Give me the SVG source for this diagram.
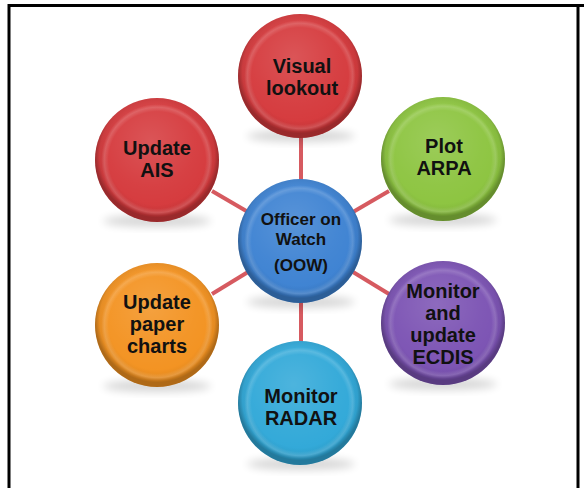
<svg xmlns="http://www.w3.org/2000/svg" width="584" height="488" viewBox="0 0 584 488">
<style>
.t{font-family:"Liberation Sans",Arial,sans-serif;font-weight:bold;fill:#111;text-anchor:middle}
.big{font-size:20px}
.mid{font-size:17px}
.conn{stroke:#d65a60;stroke-width:4;fill:none}
.shadow{fill:#000;opacity:0.16}
</style>
<defs>
<filter id="blur" x="-30%" y="-50%" width="160%" height="200%"><feGaussianBlur stdDeviation="4"/></filter>
<radialGradient id="shade" cx="50%" cy="46%" r="54%">
<stop offset="0.74" stop-color="#000" stop-opacity="0"/>
<stop offset="0.86" stop-color="#000" stop-opacity="0.06"/>
<stop offset="0.93" stop-color="#000" stop-opacity="0.28"/>
</radialGradient>
<radialGradient id="hi" cx="45%" cy="35%" r="60%">
<stop offset="0" stop-color="#fff" stop-opacity="0.14"/>
<stop offset="0.6" stop-color="#fff" stop-opacity="0.04"/>
<stop offset="1" stop-color="#fff" stop-opacity="0"/>
</radialGradient>
<radialGradient id="rim" cx="50%" cy="50%" r="50%">
<stop offset="0.78" stop-color="#fff" stop-opacity="0"/>
<stop offset="0.85" stop-color="#fff" stop-opacity="0.16"/>
<stop offset="0.9" stop-color="#fff" stop-opacity="0"/>
</radialGradient>
</defs>
<rect x="0" y="0" width="584" height="488" fill="#fff"/>
<path d="M9 488 V5.5 H584" fill="none" stroke="#000" stroke-width="3"/>
<line x1="578" y1="5" x2="578" y2="488" stroke="#000" stroke-width="3"/>

<g id="connectors">
<line class="conn" x1="301" y1="135" x2="301" y2="182"/>
<line class="conn" x1="301" y1="300" x2="301" y2="345"/>
<line class="conn" x1="212" y1="191" x2="248" y2="212"/>
<line class="conn" x1="389" y1="191" x2="353" y2="212"/>
<line class="conn" x1="212" y1="294" x2="248" y2="272"/>
<line class="conn" x1="389" y1="294" x2="353" y2="272"/>
</g>

<g id="visual-lookout">
<ellipse class="shadow" cx="301" cy="136" rx="54" ry="6" filter="url(#blur)"/>
<circle cx="300" cy="76" r="62" fill="#d5393c"/>
<circle cx="300" cy="76" r="62" fill="url(#hi)"/>
<circle cx="300" cy="76" r="62" fill="url(#rim)"/>
<circle cx="300" cy="76" r="62" fill="url(#shade)"/>
<text class="t big" x="302" y="73">Visual</text>
<text class="t big" x="302" y="95">lookout</text>
</g>

<g id="update-ais">
<ellipse class="shadow" cx="157" cy="221" rx="54" ry="6" filter="url(#blur)"/>
<circle cx="157" cy="160" r="62" fill="#d5393c"/>
<circle cx="157" cy="160" r="62" fill="url(#hi)"/>
<circle cx="157" cy="160" r="62" fill="url(#rim)"/>
<circle cx="157" cy="160" r="62" fill="url(#shade)"/>
<text class="t big" x="157" y="155">Update</text>
<text class="t big" x="157" y="177">AIS</text>
</g>

<g id="plot-arpa">
<ellipse class="shadow" cx="443" cy="220" rx="54" ry="6" filter="url(#blur)"/>
<circle cx="443" cy="159" r="62" fill="#8cc43f"/>
<circle cx="443" cy="159" r="62" fill="url(#hi)"/>
<circle cx="443" cy="159" r="62" fill="url(#rim)"/>
<circle cx="443" cy="159" r="62" fill="url(#shade)"/>
<text class="t big" x="444" y="153">Plot</text>
<text class="t big" x="444" y="175">ARPA</text>
</g>

<g id="officer-on-watch">
<ellipse class="shadow" cx="301" cy="302" rx="54" ry="6" filter="url(#blur)"/>
<circle cx="300" cy="241" r="62" fill="#3d82d2"/>
<circle cx="300" cy="241" r="62" fill="url(#hi)"/>
<circle cx="300" cy="241" r="62" fill="url(#rim)"/>
<circle cx="300" cy="241" r="62" fill="url(#shade)"/>
<text class="t mid" x="301" y="225">Officer on</text>
<text class="t mid" x="301" y="245">Watch</text>
<text class="t mid" x="301" y="271">(OOW)</text>
</g>

<g id="update-paper-charts">
<ellipse class="shadow" cx="157" cy="386" rx="54" ry="6" filter="url(#blur)"/>
<circle cx="157" cy="325" r="62" fill="#f39220"/>
<circle cx="157" cy="325" r="62" fill="url(#hi)"/>
<circle cx="157" cy="325" r="62" fill="url(#rim)"/>
<circle cx="157" cy="325" r="62" fill="url(#shade)"/>
<text class="t big" x="157" y="309">Update</text>
<text class="t big" x="157" y="331">paper</text>
<text class="t big" x="157" y="353">charts</text>
</g>

<g id="monitor-update-ecdis">
<ellipse class="shadow" cx="443" cy="384" rx="54" ry="6" filter="url(#blur)"/>
<circle cx="443" cy="323" r="62" fill="#7b52b3"/>
<circle cx="443" cy="323" r="62" fill="url(#hi)"/>
<circle cx="443" cy="323" r="62" fill="url(#rim)"/>
<circle cx="443" cy="323" r="62" fill="url(#shade)"/>
<text class="t big" x="443" y="298">Monitor</text>
<text class="t big" x="443" y="320">and</text>
<text class="t big" x="443" y="342">update</text>
<text class="t big" x="443" y="364">ECDIS</text>
</g>

<g id="monitor-radar">
<ellipse class="shadow" cx="301" cy="464" rx="54" ry="6" filter="url(#blur)"/>
<circle cx="300" cy="403" r="62" fill="#30a8d8"/>
<circle cx="300" cy="403" r="62" fill="url(#hi)"/>
<circle cx="300" cy="403" r="62" fill="url(#rim)"/>
<circle cx="300" cy="403" r="62" fill="url(#shade)"/>
<text class="t big" x="301" y="403">Monitor</text>
<text class="t big" x="301" y="425">RADAR</text>
</g>
</svg>
